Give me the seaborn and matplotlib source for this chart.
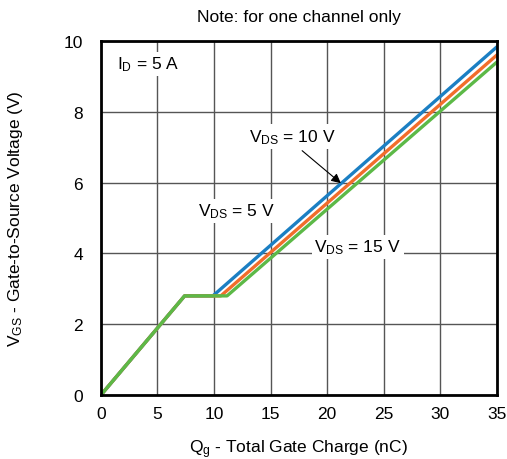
import pandas as pd
import matplotlib.pyplot as plt
import seaborn as sns

# Gate charge curves (Qg in nC, Vgs in V), one per drain-source voltage
qg_vds5 = [0, 7.4, 9.9, 35]
vgs_vds5 = [0, 2.8, 2.8, 9.83]
qg_vds10 = [0, 7.4, 10.6, 35]
vgs_vds10 = [0, 2.8, 2.8, 9.6]
qg_vds15 = [0, 7.4, 11.15, 35]
vgs_vds15 = [0, 2.8, 2.8, 9.4]

series_names = ["VDS = 5 V", "VDS = 10 V", "VDS = 15 V"]
colors = ["#1b7fc3", "#f26d2b", "#5cb947"]

df = pd.concat([
    pd.DataFrame({"Qg": qg_vds5, "Vgs": vgs_vds5, "series": series_names[0]}),
    pd.DataFrame({"Qg": qg_vds10, "Vgs": vgs_vds10, "series": series_names[1]}),
    pd.DataFrame({"Qg": qg_vds15, "Vgs": vgs_vds15, "series": series_names[2]}),
])

sns.set_style("white")
plt.rcParams["font.family"] = ["Liberation Sans", "DejaVu Sans"]
plt.rcParams["mathtext.fontset"] = "custom"
plt.rcParams["mathtext.rm"] = "Liberation Sans"
plt.rcParams["mathtext.it"] = "Liberation Sans:italic"
for key in ["text.color", "axes.labelcolor", "xtick.labelcolor", "ytick.labelcolor"]:
    plt.rcParams[key] = "black"

fig = plt.figure(figsize=(5.07, 4.6), dpi=100)
ax = fig.add_axes([0.199, 0.139, 0.781, 0.770])

sns.lineplot(data=df, x="Qg", y="Vgs", hue="series", palette=colors,
             linewidth=2.4, legend=False, sort=False, ax=ax, zorder=3)

fs = 12.5
ax.set_xlim(0, 35)
ax.set_ylim(0, 10)
ax.set_xticks(range(0, 36, 5))
ax.set_yticks(range(0, 11, 2))
ax.grid(True, color="#555555", linewidth=1)
ax.tick_params(length=0, labelsize=fs)
ax.tick_params(axis="y", pad=13)
ax.tick_params(axis="x", pad=8)
for s in ax.spines.values():
    s.set_color("black")
    s.set_linewidth(2)
    s.set_zorder(5)

ax.set_xlabel(r"Q$\mathregular{_g}$ - Total Gate Charge (nC)", fontsize=fs, labelpad=12)
ax.set_ylabel(r"V$\mathregular{_{GS}}$ - Gate-to-Source Voltage (V)", fontsize=fs, labelpad=28)
ax.set_title("Note: for one channel only", fontsize=fs, pad=14)

box = dict(facecolor="white", edgecolor="none", pad=2)
ax.text(1.4, 9.35, r"I$\mathregular{_D}$ = 5 A", fontsize=fs, va="center", ha="left", bbox=box, zorder=4)
ax.text(12.0, 5.2, r"V$\mathregular{_{DS}}$ = 5 V", fontsize=fs, va="center", ha="center", bbox=box, zorder=4)
ax.text(22.7, 4.18, r"V$\mathregular{_{DS}}$ = 15 V", fontsize=fs, va="center", ha="center", bbox=box, zorder=4)
ax.text(16.9, 7.3, r"V$\mathregular{_{DS}}$ = 10 V", fontsize=fs, va="center", ha="center", bbox=box, zorder=4)
ax.annotate("", xy=(21.4, 5.93), xytext=(17.6, 6.95),
            arrowprops=dict(arrowstyle="-|>", color="black", lw=0.8, mutation_scale=14), zorder=6)

fig.savefig("out.png", dpi=100)
